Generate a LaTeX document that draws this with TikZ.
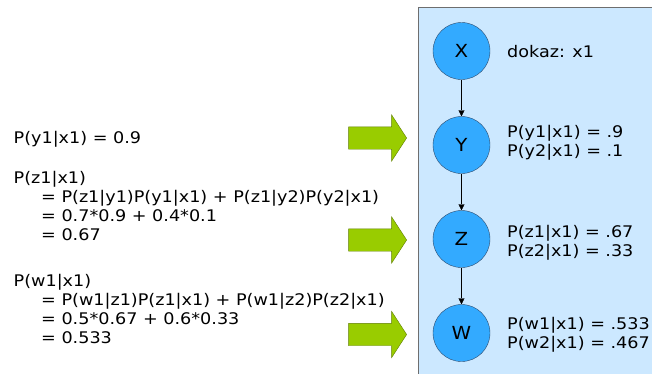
\documentclass[tikz,border=0pt]{standalone}
\usepackage{fontspec}
\setmainfont{DejaVu Sans}[FakeStretch=1.1]
\usetikzlibrary{shapes.arrows, arrows.meta}
\definecolor{panelblue}{RGB}{204,232,255}
\definecolor{paneledge}{RGB}{110,110,110}
\definecolor{nodeblue}{RGB}{51,170,255}
\definecolor{nodeedge}{RGB}{45,75,110}
\definecolor{arrowgreen}{RGB}{153,204,0}
\definecolor{arrowedge}{RGB}{95,125,0}

\begin{document}
\begin{tikzpicture}[x=1pt, y=-1pt,
    var/.style={circle, draw=nodeedge, fill=nodeblue, minimum size=57pt, inner sep=0pt, font=\fontsize{18}{20}\selectfont},
    txt/.style={align=left, inner sep=0pt, font=\fontsize{16}{19}\selectfont},
    bigarrow/.style={single arrow, draw=arrowedge, fill=arrowgreen, minimum height=58pt, inner ysep=11pt, inner xsep=0pt, single arrow head extend=12pt, single arrow tip angle=114}]
    \useasboundingbox (0,0) rectangle (652,373);

    % Network panel
    \draw[draw=paneledge, fill=panelblue] (418,7) rectangle (680,400);
    \node[var] (x) at (461.5,51) {X};
    \node[var] (y) at (461.5,145) {Y};
    \node[var] (z) at (461.5,239) {Z};
    \node[var] (w) at (461.5,333) {W};

    \draw[-{Triangle[length=6pt,width=6pt]}] (x) -- (y);
    \draw[-{Triangle[length=6pt,width=6pt]}] (y) -- (z);
    \draw[-{Triangle[length=6pt,width=6pt]}] (z) -- (w);

    \node[txt, anchor=west] (evid) at (507,52) {dokaz: x1};
    \node[txt, anchor=west] (py) at (507,143) {P(y1|x1) = .9\\P(y2|x1) = .1};
    \node[txt, anchor=west] (pz) at (507,243) {P(z1|x1) = .67\\P(z2|x1) = .33};
    \node[txt, anchor=west] (pw) at (507,335) {P(w1|x1) = .533\\P(w2|x1) = .467};

    % Calculation
    \node[txt, anchor=west] (cy) at (13.5,139.5) {P(y1|x1) = 0.9};
    \node[txt, anchor=north west] (cz) at (13.5,171.5) {P(z1|x1)\\
        \hspace*{27.5pt}= P(z1|y1)P(y1|x1) + P(z1|y2)P(y2|x1)\\
        \hspace*{27.5pt}= 0.7*0.9 + 0.4*0.1\\
        \hspace*{27.5pt}= 0.67};
    \node[txt, anchor=north west] (cw) at (13.5,274.5) {P(w1|x1)\\
        \hspace*{27.5pt}= P(w1|z1)P(z1|x1) + P(w1|z2)P(z2|x1)\\
        \hspace*{27.5pt}= 0.5*0.67 + 0.6*0.33\\
        \hspace*{27.5pt}= 0.533};

    \node[bigarrow] (ay) at (374,138) {};
    \node[bigarrow] (az) at (374,240) {};
    \node[bigarrow] (aw) at (374,334.5) {};
\end{tikzpicture}
\end{document}
